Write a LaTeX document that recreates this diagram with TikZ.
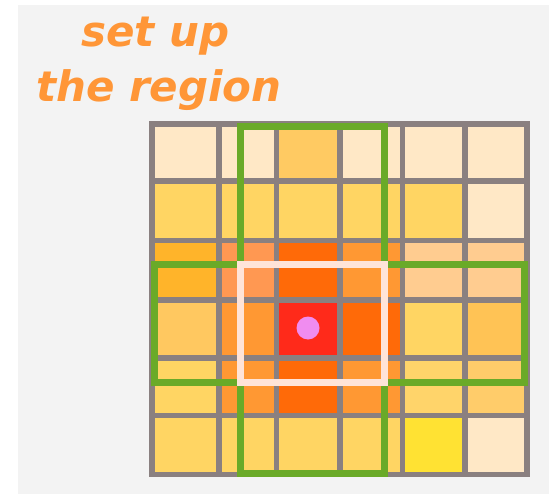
\documentclass[tikz,border=0pt]{standalone}
\usepackage{fontspec}
\newfontfamily\titlefont{DejaVu Sans}
\definecolor{paper}{RGB}{243,243,243}
\definecolor{ttext}{RGB}{255,150,55}
\definecolor{gridgray}{RGB}{138,128,128}
\definecolor{frameg}{RGB}{106,170,40}
\definecolor{framep}{RGB}{255,228,216}
\definecolor{dotc}{RGB}{240,140,240}
\definecolor{cream}{RGB}{255,232,198}
\definecolor{lor}{RGB}{255,202,98}
\definecolor{yel}{RGB}{255,213,99}
\definecolor{amb}{RGB}{255,180,42}
\definecolor{sal}{RGB}{255,152,82}
\definecolor{dor}{RGB}{255,106,8}
\definecolor{mor}{RGB}{255,152,51}
\definecolor{pch}{RGB}{255,204,144}
\definecolor{lor2}{RGB}{255,200,96}
\definecolor{redc}{RGB}{255,42,26}
\definecolor{lor3}{RGB}{255,195,85}
\definecolor{yel2}{RGB}{255,212,106}
\definecolor{lor4}{RGB}{255,204,106}
\definecolor{byel}{RGB}{255,226,51}
\def\xs{{152,219,276.5,340,402.5,465,527}}
\newcommand\rowcells[3]{%
  \foreach \col [count=\i from 0] in {#3} {%
    \pgfmathsetmacro\xa{\xs[\i]}%
    \pgfmathsetmacro\xb{\xs[\i+1]}%
    \fill[\col] (\xa,#1) rectangle (\xb,#2);}}
\begin{document}
\begin{tikzpicture}[x=1pt,y=-1pt,
  title/.style={text=ttext,inner sep=0pt,font=\titlefont\bfseries\itshape\fontsize{42}{42}\selectfont},
  gridline/.style={draw=gridgray,line width=5.5pt,line cap=rect},
  greenframe/.style={draw=frameg,line width=7pt},
  pinkframe/.style={draw=framep,line width=7pt},
  dotstyle/.style={circle,fill=dotc,minimum size=23pt,inner sep=0pt}]
\useasboundingbox (0,0) rectangle (553,494);
\fill[white] (0,0) rectangle (553,494);
\fill[paper] (18,5) rectangle (549,494);
% title
\node[title,anchor=base west] (t1) at (81,47) {set up};
\node[title,anchor=base west] (t2) at (36,102) {the region};
% cells
\rowcells{124}{181}{cream,cream,lor,cream,cream,cream}
\rowcells{181}{240.5}{yel,yel,yel,yel,yel,cream}
\rowcells{240.5}{300}{amb,sal,dor,mor,pch,pch}
\rowcells{300}{358}{lor2,mor,redc,dor,yel,lor3}
\rowcells{358}{415.5}{yel,mor,dor,mor,yel2,lor4}
\rowcells{415.5}{474.5}{yel,yel,yel,yel,byel,cream}
% grid lines
\foreach \x in {152,219,276.5,340,402.5,465,527}
  \draw[gridline] (\x,124) -- (\x,474.5);
\foreach \y in {124,181,240.5,300,358,415.5,474.5}
  \draw[gridline] (152,\y) -- (527,\y);
% frames
\draw[greenframe] (240,126.5) rectangle (384,473);
\draw[greenframe] (154.5,264.5) rectangle (524.5,382.5);
\draw[pinkframe] (240.5,264.5) rectangle (384,382.5);
\node[dotstyle] (dot) at (308,328) {};
\end{tikzpicture}
\end{document}
